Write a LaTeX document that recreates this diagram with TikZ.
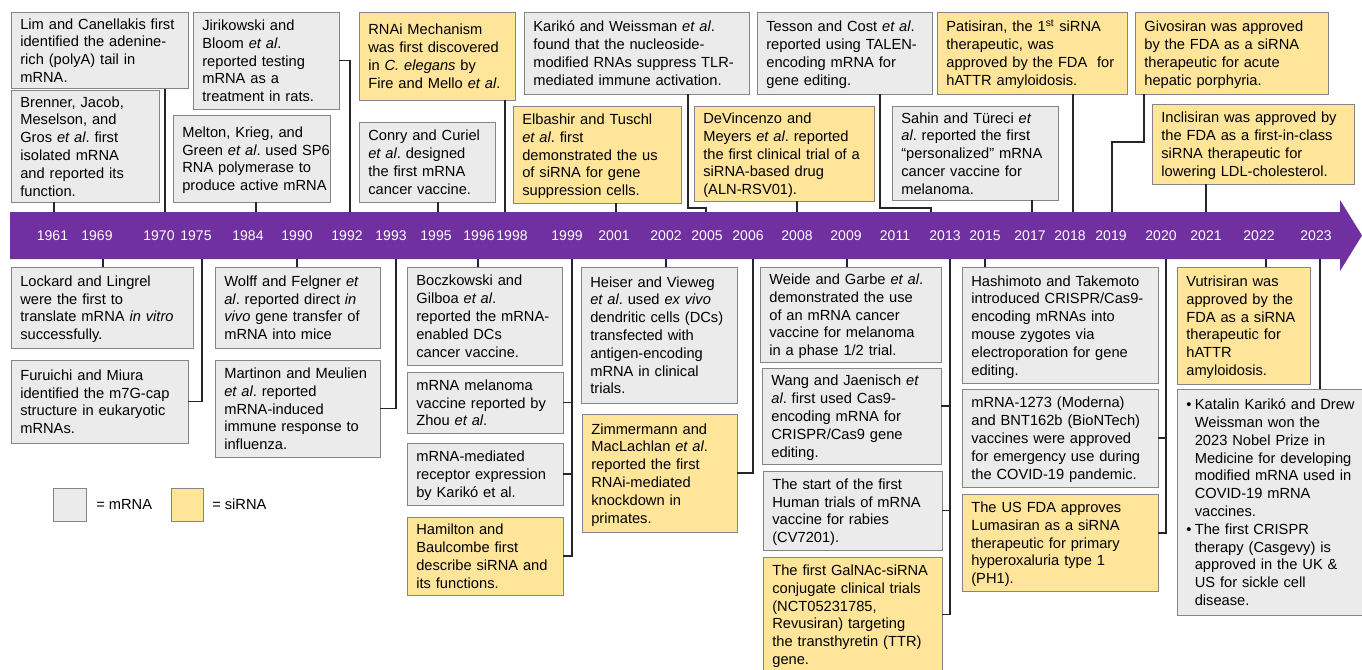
\documentclass[tikz,border=0pt]{standalone}
\usepackage{fontspec}
\setmainfont{Liberation Sans}
\usetikzlibrary{calc}
\definecolor{barpurple}{HTML}{7030A0}
\definecolor{mgray}{HTML}{EBEBEB}
\definecolor{syellow}{HTML}{FFE599}
\definecolor{edgegray}{HTML}{858585}
\frenchspacing
\newcommand{\evboxr}[7]{%
  \pgfmathsetmacro{\evW}{(#5-#3)*0.75}%
  \pgfmathsetmacro{\evH}{(#6-#4)*0.75}%
  \pgfmathsetmacro{\evT}{\evW-14}%
  \node[#2, anchor=north west, minimum width=\evW pt, minimum height=\evH pt, text width=\evT pt] (#1) at (#3,#4) {\raisebox{-1.5pt}[\height][\depth]{#7}};}
\newcommand{\evbox}[7]{\evboxr{#1}{#2}{#3}{#4}{#5}{#6}{\begin{tabular}{@{}l@{}}#7\end{tabular}}}
\begin{document}
\begin{tikzpicture}[x=0.75pt,y=-0.75pt,
  every node/.style={font=\fontsize{11}{13.35}\selectfont},
  mrna/.style={draw=edgegray, fill=mgray, line width=0.75pt, inner xsep=7pt, inner ysep=2pt, outer sep=0pt, align=left},
  sirna/.style={mrna, fill=syellow},
  conn/.style={draw=black!85, line width=0.8pt},
  yr/.style={text=white, font=\fontsize{10.5}{12}\selectfont, inner sep=0pt}]
\useasboundingbox (0,0) rectangle (1362,669);

% timeline bar
\fill[barpurple] (10,212) -- (1340,212) -- (1340,200) -- (1362,235.5) -- (1340,271) -- (1340,259) -- (10,259) -- cycle;

% year labels
\foreach \yy/\xx in {1961/52.5,1969/97,1970/159,1975/196,1984/248,1990/297,1992/347,1993/391,1995/436,1996/479,1998/512,1999/567,2001/614,2002/666,2005/707,2006/748,2008/797,2009/846,2011/895,2013/945,2015/985,2017/1030,2018/1070,2019/1111,2020/1161,2021/1206,2022/1259,2023/1316}
  \node[yr] (y\yy) at (\xx,235.5) {\yy};

% tick coordinates on bar
\coordinate (t1961) at (54,212);
\coordinate (t1970) at (165,212);
\coordinate (t1984) at (256,212);
\coordinate (t1992) at (350,212);
\coordinate (t1995) at (438,212);
\coordinate (t1998) at (505,212);
\coordinate (t2001) at (616,212);
\coordinate (t2005) at (706,212);
\coordinate (t2008) at (797,212);
\coordinate (t2013) at (931,212);
\coordinate (t2017) at (1032,212);
\coordinate (t2018) at (1073,212);
\coordinate (t2019) at (1112,212);
\coordinate (t2021) at (1206,212);
\coordinate (b1969) at (103,259);
\coordinate (b1975) at (202,259);
\coordinate (b1990) at (297,259);
\coordinate (b1993) at (396,259);
\coordinate (b1996) at (478,259);
\coordinate (b1999) at (572,259);
\coordinate (b2002) at (666,259);
\coordinate (b2006) at (753,259);
\coordinate (b2009) at (847,259);
\coordinate (b2013) at (950,259);
\coordinate (b2015) at (985,259);
\coordinate (b2020) at (1166,259);
\coordinate (b2022) at (1266,259);
\coordinate (b2023) at (1320,259);
\coordinate (e2005) at (688,208);
\coordinate (e2013) at (880,208);
\coordinate (e2019) at (1144,142);
\coordinate (ewang) at (950,406);
\coordinate (eluma) at (1166,533);

% top boxes
\evbox{lim}{mrna}{11}{12}{188}{86}{Lim and Canellakis first\\identified the adenine-\\rich (polyA) tail in\\mRNA.}
\evbox{brenner}{mrna}{11}{90}{159}{202}{Brenner, Jacob,\\Meselson, and\\Gros \textit{et al}. first\\isolated mRNA\\and reported its\\function.}
\evbox{jiri}{mrna}{193}{12}{339}{109}{Jirikowski and\\Bloom \textit{et al}.\\reported testing\\mRNA as a\\treatment in rats.}
\evbox{melton}{mrna}{173}{115}{330}{202}{Melton, Krieg, and\\Green \textit{et al}. used SP6\\RNA polymerase to\\produce active mRNA}
\evbox{rnai}{sirna}{359}{12}{515}{100}{RNAi Mechanism\\was first discovered\\in \textit{C. elegans} by\\Fire and Mello \textit{et al}.}
\evbox{conry}{mrna}{359}{122}{495}{202}{Conry and Curiel\\\textit{et al}. designed\\the first mRNA\\cancer vaccine.}
\evbox{kariko}{mrna}{524}{12}{749}{94}{Karikó and Weissman \textit{et al}.\\found that the nucleoside-\\modified RNAs suppress TLR-\\mediated immune activation.}
\evbox{elbashir}{sirna}{513}{106}{681}{203}{Elbashir and Tuschl\\\textit{et al}. first\\demonstrated the us\\of siRNA for gene\\suppression cells.}
\evbox{devin}{sirna}{694}{106}{874}{201}{DeVincenzo and\\Meyers \textit{et al}. reported\\the first clinical trial of a\\siRNA-based drug\\(ALN-RSV01).}
\evbox{tesson}{mrna}{757}{12}{932}{94}{Tesson and Cost \textit{et al}.\\reported using TALEN-\\encoding mRNA for\\gene editing.}
\evbox{patis}{sirna}{937}{12}{1127}{94}{Patisiran, the 1\textsuperscript{st} siRNA\\therapeutic, was\\approved by the FDA \ for\\hATTR amyloidosis.}
\evbox{sahin}{mrna}{892}{106}{1058}{200}{Sahin and Türeci \textit{et}\\\textit{al}. reported the first\\“personalized” mRNA\\cancer vaccine for\\melanoma.}
\evbox{givo}{sirna}{1135}{12}{1328}{94}{Givosiran was approved\\by the FDA as a siRNA\\therapeutic for acute\\hepatic porphyria.}
\evbox{incli}{sirna}{1152}{104}{1354}{184}{Inclisiran was approved by\\the FDA as a first-in-class\\siRNA therapeutic for\\lowering LDL-cholesterol.}

% bottom boxes
\evbox{lockard}{mrna}{11}{267}{193}{348}{Lockard and Lingrel\\were the first to\\translate mRNA \textit{in vitro}\\successfully.}
\evbox{furu}{mrna}{11}{360}{188}{443}{Furuichi and Miura\\identified the m7G-cap\\structure in eukaryotic\\mRNAs.}
\evbox{wolff}{mrna}{215}{267}{380}{348}{Wolff and Felgner \textit{et}\\\textit{al}. reported direct \textit{in}\\\textit{vivo} gene transfer of\\mRNA into mice}
\evbox{martinon}{mrna}{215}{360}{380}{457}{Martinon and Meulien\\\textit{et al}. reported\\mRNA-induced\\immune response to\\influenza.}
\evbox{boc}{mrna}{407}{267}{562}{365}{Boczkowski and\\Gilboa \textit{et al}.\\reported the mRNA-\\enabled DCs\\cancer vaccine.}
\evbox{zhou}{mrna}{407}{372}{563}{433}{mRNA melanoma\\vaccine reported by\\Zhou \textit{et al}.}
\evbox{kariko2}{mrna}{407}{443}{563}{505}{mRNA-mediated\\receptor expression\\by Karikó et al.}
\evbox{hamilton}{sirna}{407}{517}{563}{595}{Hamilton and\\Baulcombe first\\describe siRNA and\\its functions.}
\evbox{heiser}{mrna}{581}{267}{737}{403}{Heiser and Vieweg\\\textit{et al}. used \textit{ex vivo}\\dendritic cells (DCs)\\transfected with\\antigen-encoding\\mRNA in clinical\\trials.}
\evbox{zimm}{sirna}{582}{414}{737}{532}{Zimmermann and\\MacLachlan \textit{et al}.\\reported the first\\RNAi-mediated\\knockdown in\\primates.}
\evbox{weide}{mrna}{760}{267}{941}{362}{Weide and Garbe \textit{et al}.\\demonstrated the use\\of an mRNA cancer\\vaccine for melanoma\\in a phase 1/2 trial.}
\evbox{wang}{mrna}{762}{368}{941}{464}{Wang and Jaenisch \textit{et}\\\textit{al}. first used Cas9-\\encoding mRNA for\\CRISPR/Cas9 gene\\editing.}
\evbox{rabies}{mrna}{763}{471}{942}{550}{The start of the first\\Human trials of mRNA\\vaccine for rabies\\(CV7201).}
\evbox{galnac}{sirna}{763}{557}{942}{672}{The first GalNAc-siRNA\\conjugate clinical trials\\(NCT05231785,\\Revusiran) targeting\\the transthyretin (TTR)\\gene.}
\evbox{hashi}{mrna}{962}{267}{1158}{383}{Hashimoto and Takemoto\\introduced CRISPR/Cas9-\\encoding mRNAs into\\mouse zygotes via\\electroporation for gene\\editing.}
\evbox{m1273}{mrna}{962}{389}{1158}{487}{mRNA-1273 (Moderna)\\and BNT162b (BioNTech)\\vaccines were approved\\for emergency use during\\the COVID-19 pandemic.}
\evbox{luma}{sirna}{962}{494}{1158}{591}{The US FDA approves\\Lumasiran as a siRNA\\therapeutic for primary\\hyperoxaluria type 1\\(PH1).}
\evbox{vutri}{sirna}{1177}{267}{1310}{384}{Vutrisiran was\\approved by the\\FDA as a siRNA\\therapeutic for\\hATTR\\amyloidosis.}
\evboxr{nobel}{mrna}{1177}{389}{1362}{615}{\begin{tabular}{@{}l@{\hspace{2.5pt}}l@{}}
\textbullet & Katalin Karikó and Drew\\
 & Weissman won the\\
 & 2023 Nobel Prize in\\
 & Medicine for developing\\
 & modified mRNA used in\\
 & COVID-19 mRNA\\
 & vaccines.\\
\textbullet & The first CRISPR\\
 & therapy (Casgevy) is\\
 & approved in the UK \&\\
 & US for sickle cell\\
 & disease.
\end{tabular}}

% connectors (top)
\draw[conn] (t1961 |- brenner.south) -- (t1961);
\draw[conn] (t1970 |- lim.south) -- (t1970);
\draw[conn] (t1984 |- melton.south) -- (t1984);
\draw[conn] (jiri.east) -| (t1992);
\draw[conn] (t1995 |- conry.south) -- (t1995);
\draw[conn] (t1998 |- rnai.south) -- (t1998);
\draw[conn] (t2001 |- elbashir.south) -- (t2001);
\draw[conn] (e2005 |- kariko.south) -- (e2005) -| (t2005);
\draw[conn] (t2008 |- devin.south) -- (t2008);
\draw[conn] (e2013 |- tesson.south) -- (e2013) -| (t2013);
\draw[conn] (t2017 |- sahin.south) -- (t2017);
\draw[conn] (t2018 |- patis.south) -- (t2018);
\draw[conn] (e2019 |- givo.south) -- (e2019) -| (t2019);
\draw[conn] (t2021 |- incli.south) -- (t2021);

% connectors (bottom)
\draw[conn] (b1969 |- lockard.north) -- (b1969);
\draw[conn] (furu.east) -| (b1975);
\draw[conn] (b1990 |- wolff.north) -- (b1990);
\draw[conn] (martinon.east) -| (b1993);
\draw[conn] (b1996 |- boc.north) -- (b1996);
\draw[conn] (zhou.east) -- (zhou.east -| b1999);
\draw[conn] (kariko2.east) -- (kariko2.east -| b1999);
\draw[conn] (hamilton.east) -| (b1999);
\draw[conn] (b2002 |- heiser.north) -- (b2002);
\draw[conn] (zimm.east) -| (b2006);
\draw[conn] (b2009 |- weide.north) -- (b2009);
\draw[conn] (ewang -| wang.east) -- (ewang);
\draw[conn] (rabies.east) -- (rabies.east -| b2013);
\draw[conn] (galnac.east) -| (b2013);
\draw[conn] (b2015 |- hashi.north) -- (b2015);
\draw[conn] (m1273.east) -- (m1273.east -| b2020);
\draw[conn] (eluma -| luma.east) -| (b2020);
\draw[conn] (b2022 |- vutri.north) -- (b2022);
\draw[conn] (b2023 |- nobel.north) -- (b2023);

% legend
\node[mrna, anchor=north west, minimum width=24.75pt, minimum height=24.75pt, inner sep=0pt] (legm) at (53,488) {};
\node[anchor=west, inner sep=0pt] (legmt) at (96,504.5) {= mRNA};
\node[sirna, anchor=north west, minimum width=24pt, minimum height=24.75pt, inner sep=0pt] (legs) at (171,488) {};
\node[anchor=west, inner sep=0pt] (legst) at (212,504.5) {= siRNA};
\end{tikzpicture}
\end{document}
